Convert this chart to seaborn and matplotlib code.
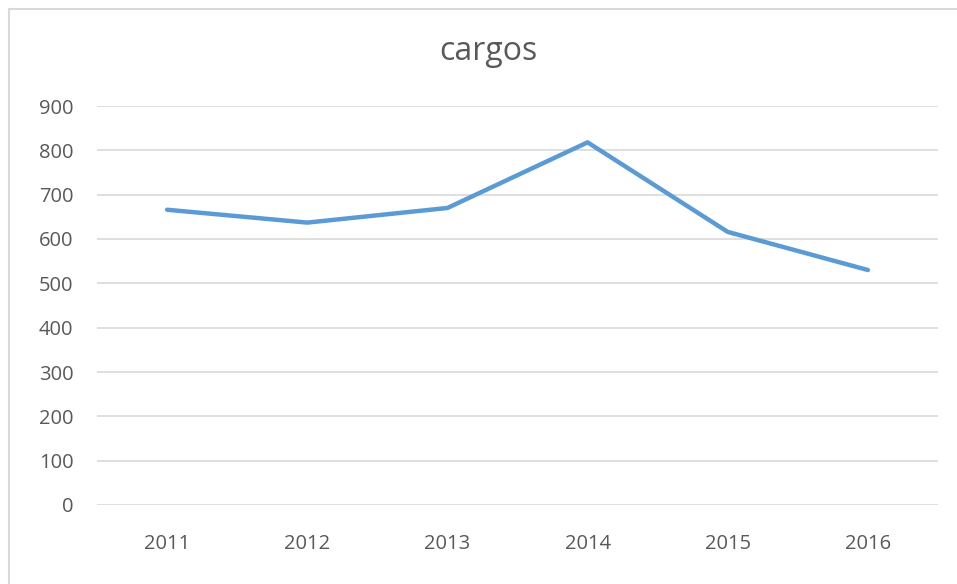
import matplotlib
matplotlib.use('Agg')
import matplotlib.pyplot as plt
import seaborn as sns
import pandas as pd

# values
years = ['2011', '2012', '2013', '2014', '2015', '2016']
cargos = [666, 637, 670, 818, 616, 530]

df = pd.DataFrame({'year': years, 'cargos': cargos})

sns.set_theme(style='white')
plt.rcParams['font.family'] = ['Open Sans', 'DejaVu Sans']

fig = plt.figure(figsize=(9.57, 5.84), dpi=100)
ax = fig.add_axes([97 / 957, 1 - 505 / 584, (938 - 97) / 957, (505 - 106) / 584])

sns.lineplot(data=df, x='year', y='cargos', ax=ax, color='#5b9bd5', linewidth=3.2, sort=False)

ax.set_xlim(-0.5, len(years) - 0.5)
ax.set_ylim(0, 900)
ax.set_yticks(range(0, 901, 100))
ax.yaxis.grid(True, color='#d9d9d9', linewidth=1.2)
ax.set_axisbelow(True)
for s in ax.spines.values():
    s.set_visible(False)
ax.tick_params(axis='both', length=0, labelsize=14.5, colors='#595959')
ax.tick_params(axis='y', pad=17)
ax.tick_params(axis='x', pad=21)
ax.set_xlabel('')
ax.set_ylabel('')

# title is centred on the whole chart area, not the plot area
fig.text(488 / 957, 1 - 52 / 584, 'cargos', fontsize=23, color='#595959', ha='center', va='center')

# outer chart border (left and top only visible in the crop)
fig.add_artist(plt.Line2D([8.5 / 957, 8.5 / 957], [0, 1 - 8.5 / 584], color='#d9d9d9', linewidth=1.5))
fig.add_artist(plt.Line2D([8.5 / 957, 1], [1 - 8.5 / 584, 1 - 8.5 / 584], color='#d9d9d9', linewidth=1.5))

fig.savefig('out.png', dpi=100)
